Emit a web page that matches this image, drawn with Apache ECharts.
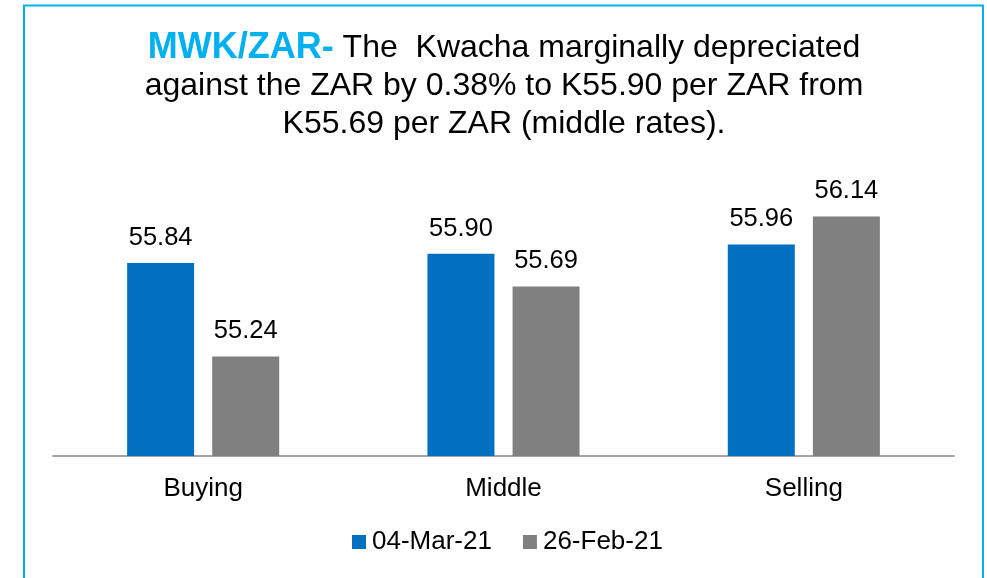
<!DOCTYPE html>
<html lang="en" style="height: 100%">
<head>
  <meta charset="utf-8">
</head>
<body style="height: 100%; margin: 0; background: #fff">
  <div id="container" style="width: 987px; height: 578px"></div>

  <script type="text/javascript" src="https://cdn.jsdelivr.net/npm/echarts@6/dist/echarts.min.js"></script>

  <script type="text/javascript">
    var categories = ['Buying', 'Middle', 'Selling'];
    var seriesNames = ['04-Mar-21', '26-Feb-21'];
    var mar04 = [55.84, 55.90, 55.96];
    var feb26 = [55.24, 55.69, 56.14];
    var colors = ['#0070C0', '#808080'];

    var dom = document.getElementById('container');
    var myChart = echarts.init(dom, null, { renderer: 'canvas' });
    var font = "'Liberation Sans', Arial, sans-serif";

    var labelStyle = {
      show: true,
      position: 'top',
      distance: 12,
      fontFamily: font,
      fontSize: 25.5,
      color: '#000',
      formatter: function (p) { return p.value.toFixed(2); }
    };

    var option = {
      backgroundColor: '#fff',
      animation: false,
      title: {
        left: 499,
        top: 24,
        textAlign: 'center',
        text: '{b|MWK/ZAR-}{n| The  Kwacha marginally depreciated}\n' +
          '{n|against the ZAR by 0.38% to K55.90 per ZAR from}\n' +
          '{n|K55.69 per ZAR (middle rates).}',
        textStyle: {
          fontFamily: font,
          fontWeight: 'normal',
          lineHeight: 38,
          rich: {
            b: { fontFamily: font, fontSize: 36, fontWeight: 'bold', color: '#00B0F0', lineHeight: 38 },
            n: { fontFamily: font, fontSize: 32, fontWeight: 'normal', color: '#000', lineHeight: 38 }
          }
        }
      },
      graphic: [{
        type: 'rect',
        shape: { x: 24, y: 5.5, width: 959, height: 620 },
        style: { fill: null, stroke: '#00B0F0', lineWidth: 2 },
        silent: true
      }],
      legend: {
        bottom: 18,
        left: 347,
        itemWidth: 14,
        itemHeight: 14,
        itemGap: 31,
        icon: 'rect',
        textStyle: { fontFamily: font, fontSize: 26, color: '#000', padding: [0, 0, 0, 1] },
        data: seriesNames
      },
      grid: { left: 53, right: 33, top: 176, bottom: 122 },
      xAxis: {
        type: 'category',
        data: categories,
        axisLine: { lineStyle: { color: '#A6A6A6', width: 2 } },
        axisTick: { show: false },
        axisLabel: { fontFamily: font, fontSize: 26, color: '#000', margin: 20 }
      },
      yAxis: {
        type: 'value',
        min: 54.6,
        max: 56.4,
        show: false
      },
      series: [
        {
          name: seriesNames[0],
          type: 'bar',
          data: mar04,
          barWidth: 67,
          barGap: '27%',
          itemStyle: { color: colors[0] },
          label: labelStyle
        },
        {
          name: seriesNames[1],
          type: 'bar',
          data: feb26,
          barWidth: 67,
          barGap: '27%',
          itemStyle: { color: colors[1] },
          label: labelStyle
        }
      ]
    };

    myChart.setOption(option);
    window.addEventListener('resize', myChart.resize);
  </script>
</body>
</html>
